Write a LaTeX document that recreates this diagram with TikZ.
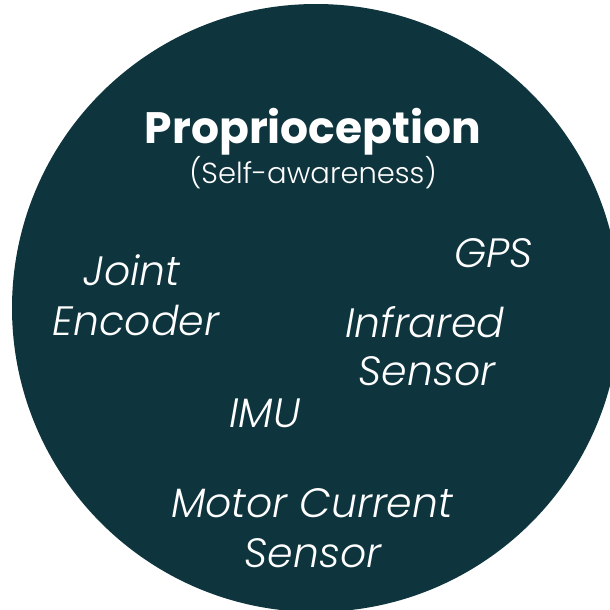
\documentclass[tikz,border=0pt]{standalone}
\usepackage{fontspec}
\setmainfont{Poppins Light}[BoldFont=Poppins Bold, ItalicFont=Poppins Light Italic]
\definecolor{teal}{RGB}{14,52,62}
\begin{document}
\begin{tikzpicture}[x=1pt,y=-1pt,
  lbl/.style={text=white,inner sep=0pt,anchor=base,font=\fontsize{41}{48}\selectfont\itshape},
  ttl/.style={text=white,inner sep=0pt,anchor=base,font=\fontsize{44}{50}\selectfont\bfseries},
  sub/.style={text=white,inner sep=0pt,anchor=base,font=\fontsize{29}{34}\selectfont}]
\useasboundingbox (0,0) rectangle (610,610);
\clip (0,0) rectangle (610,610);
\fill[teal] (316,308) circle[radius=304];
\node[ttl] (title) at (313,143) {Proprioception};
\node[sub] (subtitle) at (313,183) {(Self-awareness)};
\node[lbl] (joint1) at (132,285) {Joint};
\node[lbl] (joint2) at (136,335) {Encoder};
\node[lbl] (gps) at (494,267) {GPS};
\node[lbl] (ir1) at (425,337) {Infrared};
\node[lbl] (ir2) at (427,385) {Sensor};
\node[lbl] (imu) at (265,427) {IMU};
\node[lbl] (mc1) at (312,517) {Motor Current};
\node[lbl] (mc2) at (313,567) {Sensor};
\end{tikzpicture}
\end{document}
